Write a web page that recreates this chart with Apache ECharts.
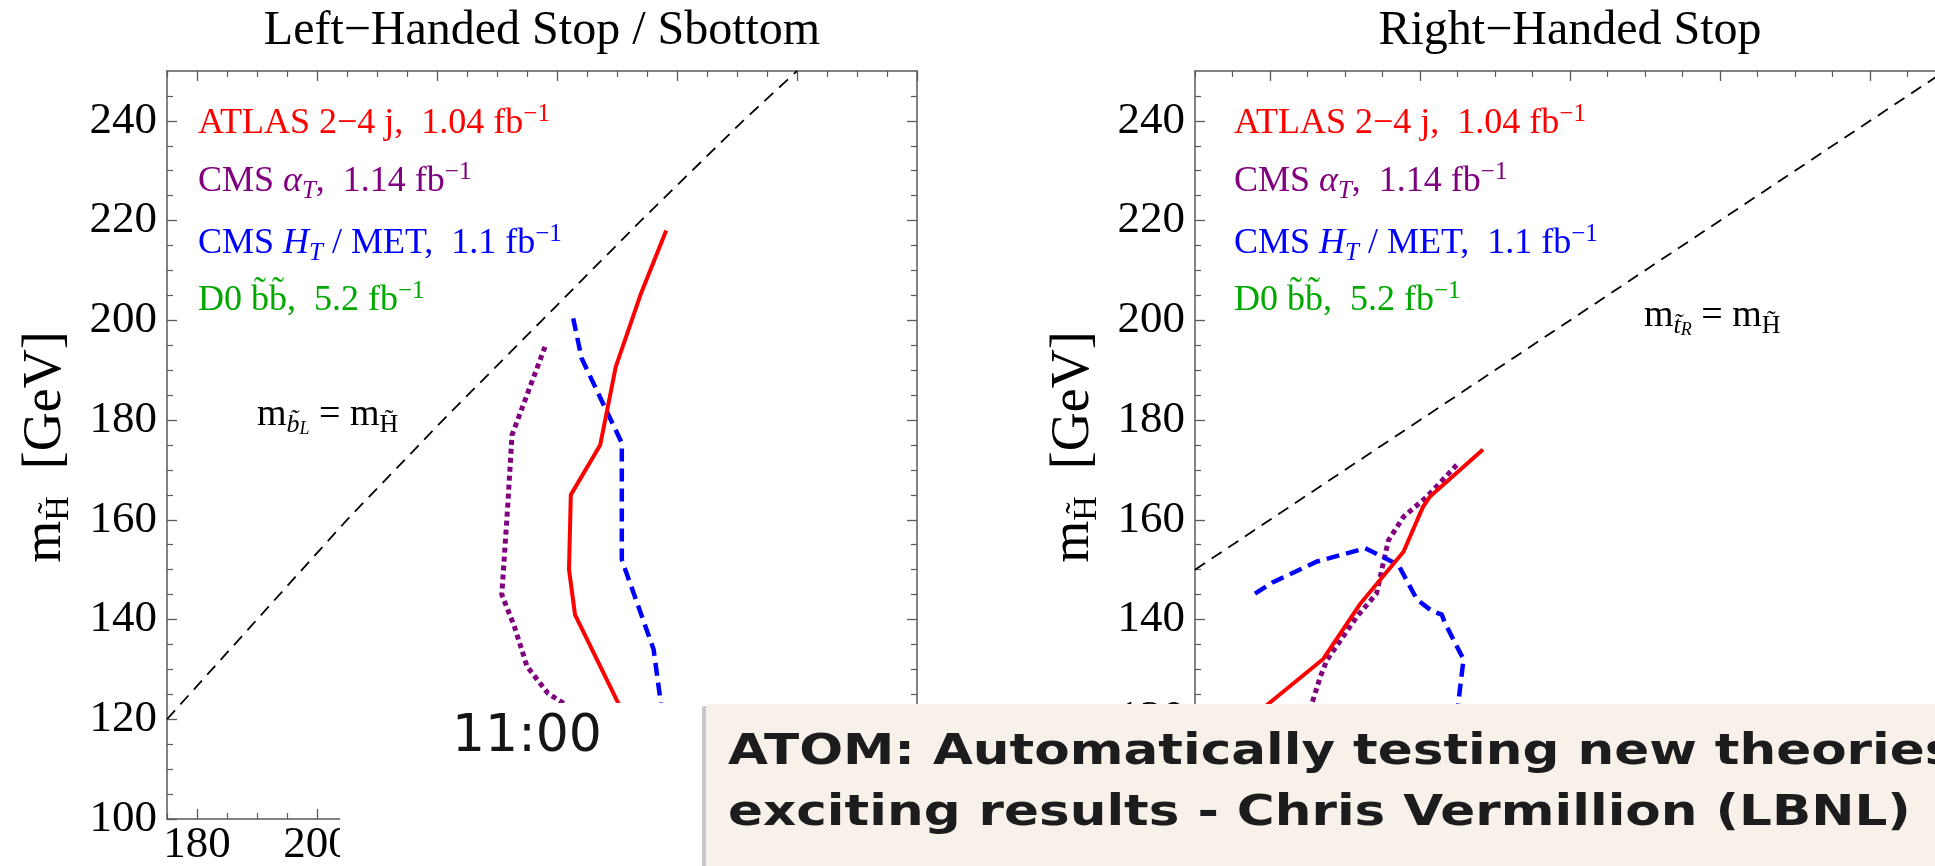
<!DOCTYPE html>
<html>
<head>
<meta charset="utf-8">
<script src="https://cdn.jsdelivr.net/npm/echarts@6/dist/echarts.min.js"></script>
<style>
html,body{margin:0;padding:0;background:#fff;}
#chart{width:1935px;height:866px;}
</style>
</head>
<body>
<div id="chart"></div>
<script>
// ---------- data ----------
// Left panel: x = stop/sbottom mass, y = higgsino mass
const leftDiag = [[175,120],[190,140],[205,160],[221,180],[237.5,200],[254,220],[271,240],[280,250]];
const leftAtlas = [[258.2,218],[254,205.4],[249.8,190.7],[247.2,175],[242.3,165],[242,150],[243,141],[249.9,124],[252,119]];
const leftCmsHt = [[242.7,200.4],[244.1,192.4],[250.8,175.4],[250.8,152],[256.1,134],[257.2,124.2],[257.8,117]];
const leftCmsAlpha = [[238,194.7],[232.5,177],[231.8,163],[230.8,145],[232.9,138.6],[235,130.6],[238.5,125.2],[241.1,123.2],[246,120]];
// Right panel
const rightDiag = [[150,150],[250,250]];
const rightAtlas = [[188.4,174.1],[181.3,164.6],[180.4,162.6],[177.8,153.6],[172,143.1],[167.1,132.1],[159.8,123.1],[155.7,118]];
const rightCmsAlpha = [[184.9,171],[180.9,164.6],[177.8,160.6],[175.8,155.9],[175.1,151.3],[174.2,145.2],[171.6,140.6],[167.6,131.9],[166.7,128.5],[165.6,123.2],[165,119]];
const rightCmsHt = [[158,145.2],[160.4,147.5],[166.2,151.6],[172.7,154.3],[177.1,151],[179.6,144],[181.6,141.7],[182.9,141],[183.3,139.4],[185.8,132],[185.1,123.2],[184.8,118]];

// ticks
const leftXMajor = [180,200,220,240,260,280,300];
const leftXMinor = [175,185,190,195,205,210,215,225,230,235,245,250,255,265,270,275,285,290,295];
const leftXLabels = [180,200];
const rightXMajor = [160,180,200,220,240];
const rightXMinor = [150,155,165,170,175,185,190,195,205,210,215,225,230,235,245,250];
const rightXLabels = [];
const yMajor = [100,120,140,160,180,200,220,240];
const yMinor = [105,110,115,125,130,135,145,150,155,165,170,175,185,190,195,205,210,215,225,230,235,245];
const yLabels = [100,120,140,160,180,200,220,240];

// texts
const titles = ['Left\u2212Handed Stop / Sbottom', 'Right\u2212Handed Stop'];
const legendLines = [
  '{n|ATLAS 2\u22124 j,  1.04 fb}{sup|\u22121}',
  '{n|CMS }{it|\u03b1}{sub|T}{n|,  1.14 fb}{sup|\u22121}',
  '{n|CMS }{it|H}{sub|T}{n| / MET,  1.1 fb}{sup|\u22121}',
  '{n|D0 b\u0303b\u0303,  5.2 fb}{sup|\u22121}'
];
const legendColors = ['#ff0000', '#800080', '#0000ff', '#00a800'];
const diagLabels = ['{n|m}{sb|b\u0303}{ss|L}{n| = m}{sh|H\u0303}', '{n|m}{sb|t\u0303}{ss|R}{n| = m}{sh|H\u0303}'];
const yName = '{m|m}{s|H\u0303}{m|  [GeV]}';
const clockText = '11:00';
const bannerLines = ['ATOM: Automatically testing new theories', 'exciting results - Chris Vermillion (LBNL)'];

// ---------- styles ----------
const serif = "'Liberation Serif','Times New Roman',serif";
const frame = '#5a5a5a';
const G = [{left:167, top:71, width:750, height:748}, {left:1195, top:71, width:750, height:748}];

function xAxes(gi, min, max, major, minor, labels){
  const base = {gridIndex:gi, type:'value', min:min, max:max, splitLine:{show:false}};
  return [
    Object.assign({}, base, {position:'bottom',
      axisLine:{show:true, onZero:false, lineStyle:{color:frame, width:1.5}},
      axisTick:{show:true, inside:true, length:10, customValues:major, lineStyle:{color:frame, width:1.3}},
      axisLabel:{show:labels.length>0, customValues:labels, margin:4, fontFamily:serif, fontSize:45, color:'#000'}}),
    Object.assign({}, base, {position:'bottom',
      axisLine:{show:false, onZero:false},
      axisTick:{show:true, inside:true, length:6, customValues:minor, lineStyle:{color:frame, width:1.2}},
      axisLabel:{show:false}}),
    Object.assign({}, base, {position:'top',
      axisLine:{show:true, onZero:false, lineStyle:{color:frame, width:1.5}},
      axisTick:{show:true, inside:true, length:10, customValues:major, lineStyle:{color:frame, width:1.3}},
      axisLabel:{show:false}}),
    Object.assign({}, base, {position:'top',
      axisLine:{show:false, onZero:false},
      axisTick:{show:true, inside:true, length:6, customValues:minor, lineStyle:{color:frame, width:1.2}},
      axisLabel:{show:false}})
  ];
}
function yAxes(gi){
  const base = {gridIndex:gi, type:'value', min:100, max:250, splitLine:{show:false}};
  return [
    Object.assign({}, base, {position:'left',
      axisLine:{show:true, onZero:false, lineStyle:{color:frame, width:1.5}},
      axisTick:{show:true, inside:true, length:10, customValues:yMajor, lineStyle:{color:frame, width:1.3}},
      axisLabel:{show:true, customValues:yLabels, margin:10, fontFamily:serif, fontSize:45, color:'#000'}}),
    Object.assign({}, base, {position:'left',
      axisLine:{show:false, onZero:false},
      axisTick:{show:true, inside:true, length:6, customValues:yMinor, lineStyle:{color:frame, width:1.2}},
      axisLabel:{show:false}}),
    Object.assign({}, base, {position:'right',
      axisLine:{show:true, onZero:false, lineStyle:{color:frame, width:1.5}},
      axisTick:{show:true, inside:true, length:10, customValues:yMajor, lineStyle:{color:frame, width:1.3}},
      axisLabel:{show:false}}),
    Object.assign({}, base, {position:'right',
      axisLine:{show:false, onZero:false},
      axisTick:{show:true, inside:true, length:6, customValues:yMinor, lineStyle:{color:frame, width:1.2}},
      axisLabel:{show:false}})
  ];
}

function line(data, gi, color, width, type, z){
  return {type:'line', data:data, xAxisIndex:gi*4, yAxisIndex:gi*4, showSymbol:false, symbol:'none',
    silent:true, animation:false, z:z,
    lineStyle:{color:color, width:width, type:type, cap:'butt', join:'miter'}};
}

const series = [
  line(leftDiag, 0, '#000', 1.8, [12,8], 3),
  line(leftCmsAlpha, 0, '#800080', 5, [5,4], 4),
  line(leftCmsHt, 0, '#0000ff', 4.5, [13,7], 5),
  line(leftAtlas, 0, '#ff0000', 4, 'solid', 6),
  line(rightDiag, 1, '#000', 1.8, [12,8], 3),
  line(rightCmsAlpha, 1, '#800080', 5, [5,4], 4),
  line(rightCmsHt, 1, '#0000ff', 4.5, [13,7], 5),
  line(rightAtlas, 1, '#ff0000', 4, 'solid', 6)
];

const legendRich = {
  n:{fontFamily:serif, fontSize:36, lineHeight:44},
  it:{fontFamily:serif, fontSize:36, fontStyle:'italic', lineHeight:44},
  sup:{fontFamily:serif, fontSize:25, lineHeight:22, verticalAlign:'top'},
  sub:{fontFamily:serif, fontSize:25, fontStyle:'italic', lineHeight:24, verticalAlign:'bottom'}
};
const diagRich = {
  n:{fontFamily:serif, fontSize:38, lineHeight:46},
  sb:{fontFamily:serif, fontSize:26, fontStyle:'italic', lineHeight:26, verticalAlign:'bottom'},
  ss:{fontFamily:serif, fontSize:18, fontStyle:'italic', lineHeight:10, verticalAlign:'bottom'},
  sh:{fontFamily:serif, fontSize:26, lineHeight:26, verticalAlign:'bottom'}
};
const yRich = {
  m:{fontFamily:serif, fontSize:54, lineHeight:60},
  s:{fontFamily:serif, fontSize:34, lineHeight:34, verticalAlign:'bottom'}
};

const graphics = [];
const legendTops = [102, 160, 222, 279];
const legendX = [198, 1234];
[0,1].forEach(function(p){
  graphics.push({type:'text', x: p===0 ? 542 : 1570, y:31, z:50,
    style:{text:titles[p], fontFamily:serif, fontSize:48, fill:'#000', align:'center', verticalAlign:'middle'}});
  legendLines.forEach(function(t, i){
    graphics.push({type:'text', x:legendX[p], y:legendTops[i], z:50,
      style:{text:t, rich:legendRich, fill:legendColors[i], align:'left', verticalAlign:'top'}});
  });
  graphics.push({type:'text', x: p===0 ? 257 : 1644, y: p===0 ? 392 : 293, z:50,
    style:{text:diagLabels[p], rich:diagRich, fill:'#000', align:'left', verticalAlign:'top'}});
  graphics.push({type:'text', x: p===0 ? 46 : 1074, y:447, rotation:Math.PI/2, z:50,
    style:{text:yName, rich:yRich, fill:'#000', align:'center', verticalAlign:'middle'}});
});
// video overlay
graphics.push({type:'rect', z:100, shape:{x:340, y:703, width:364, height:163}, style:{fill:'#ffffff'}});
graphics.push({type:'text', z:101, x:452, y:737,
  style:{text:clockText, fontFamily:"'DejaVu Sans',sans-serif", fontSize:52, fill:'#151515', align:'left', verticalAlign:'middle'}});
graphics.push({type:'rect', z:100, shape:{x:706, y:704, width:1229, height:162}, style:{fill:'#f7f1e9'}});
graphics.push({type:'rect', z:101, shape:{x:702, y:706, width:4, height:160, r:[2,0,0,0]}, style:{fill:'#c8c8c8'}});
bannerLines.forEach(function(t, i){
  graphics.push({type:'text', z:102, x:728, y: i===0 ? 753 : 814, scaleX:1.2,
    style:{text:t, fontFamily:"'DejaVu Sans',sans-serif", fontWeight:'bold', fontSize:43, fill:'#1c1c1c', align:'left', verticalAlign:'middle'}});
});

const option = {
  animation:false,
  backgroundColor:'#ffffff',
  grid: G.map(function(g){ return Object.assign({containLabel:false, outerBoundsMode:'none'}, g); }),
  xAxis: xAxes(0,175,300,leftXMajor,leftXMinor,leftXLabels).concat(xAxes(1,150,250,rightXMajor,rightXMinor,rightXLabels)),
  yAxis: yAxes(0).concat(yAxes(1)),
  series: series,
  graphic: graphics
};
const chart = echarts.init(document.getElementById('chart'), null, {renderer:'canvas'});
chart.setOption(option);
</script>
</body>
</html>
